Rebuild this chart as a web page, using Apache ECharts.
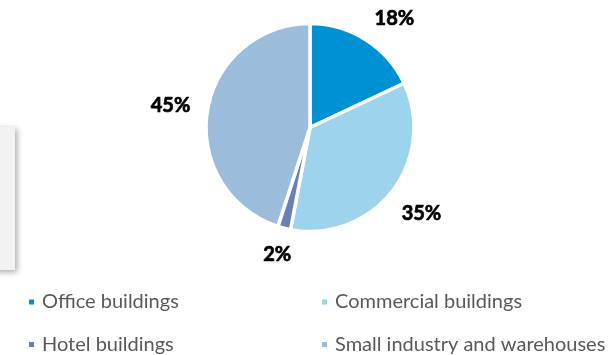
<!DOCTYPE html>
<html>
<head>
<meta charset="utf-8">
<script src="https://cdn.jsdelivr.net/npm/echarts@6/dist/echarts.min.js"></script>
<style>
  html, body { margin: 0; padding: 0; background: #fff; }
  #main { width: 608px; height: 355px; }
</style>
</head>
<body>
<div id="main"></div>
<script>
// building types and their share (%)
var categories = ['Office buildings', 'Commercial buildings', 'Hotel buildings', 'Small industry and warehouses'];
var shares = [18, 35, 2, 45];
var colors = ['#0090d4', '#9dd3ec', '#6b80b2', '#9bbcdb'];

var cx = 310, cy = 127.5, radius = 104;

var myChart = echarts.init(document.getElementById('main'));

// mid angle of every slice (clockwise from 12 o'clock)
var total = shares.reduce(function (a, b) { return a + b; }, 0);
var midAngles = [];
var acc = 0;
shares.forEach(function (v) {
  midAngles.push((acc + v / 2) / total * 2 * Math.PI);
  acc += v;
});

var option = {
  animation: false,
  graphic: [{
    type: 'rect',
    shape: { x: -10, y: 127, width: 25, height: 143 },
    style: {
      fill: '#f2f2f2',
      shadowBlur: 6,
      shadowColor: 'rgba(0,0,0,0.35)',
      shadowOffsetX: 2,
      shadowOffsetY: 2
    },
    z: -1
  }],
  legend: [{
    data: [categories[0], categories[2]],
    orient: 'vertical',
    left: 27,
    top: 292,
    padding: 0,
    itemGap: 22.5,
    itemWidth: 7,
    itemHeight: 7,
    icon: 'rect',
    textStyle: { fontFamily: 'Lato', fontSize: 20, color: '#595959', padding: [0, 0, 0, 2] }
  }, {
    data: [categories[1], categories[3]],
    orient: 'vertical',
    left: 320,
    top: 292,
    padding: 0,
    itemGap: 22.5,
    itemWidth: 7,
    itemHeight: 7,
    icon: 'rect',
    textStyle: { fontFamily: 'Lato', fontSize: 20, color: '#595959', padding: [0, 0, 0, 2] }
  }],
  series: [{
    type: 'pie',
    center: [cx, cy],
    radius: [0, radius],
    startAngle: 90,
    clockwise: true,
    color: colors,
    itemStyle: { borderColor: '#fff', borderWidth: 3.5 },
    label: {
      show: true,
      position: 'outside',
      formatter: '{c}%',
      fontFamily: 'Lato',
      fontWeight: 'bold',
      fontSize: 20,
      color: '#000',
      textBorderColor: '#000',
      textBorderWidth: 0.7
    },
    labelLine: { show: false },
    labelLayout: function (params) {
      var a = midAngles[params.dataIndex];
      var dx = Math.sin(a), dy = -Math.cos(a);
      var hw = params.labelRect.width / 2, hh = params.labelRect.height / 2 - 2;
      var dist = radius + 16 + Math.abs(dx) * hw + Math.abs(dy) * hh;
      var x = cx + dx * dist, y = cy + dy * dist;
      if (y < 18.5) {
        y = 18.5;
        var ox = Math.sqrt(Math.max(dist * dist - (cy - y) * (cy - y), 0));
        x = cx + (dx >= 0 ? ox : -ox);
      }
      return { x: x, y: y, align: 'center', verticalAlign: 'middle' };
    },
    emphasis: { disabled: true },
    data: categories.map(function (name, i) {
      return { name: name, value: shares[i] };
    })
  }]
};

myChart.setOption(option);
</script>
</body>
</html>
